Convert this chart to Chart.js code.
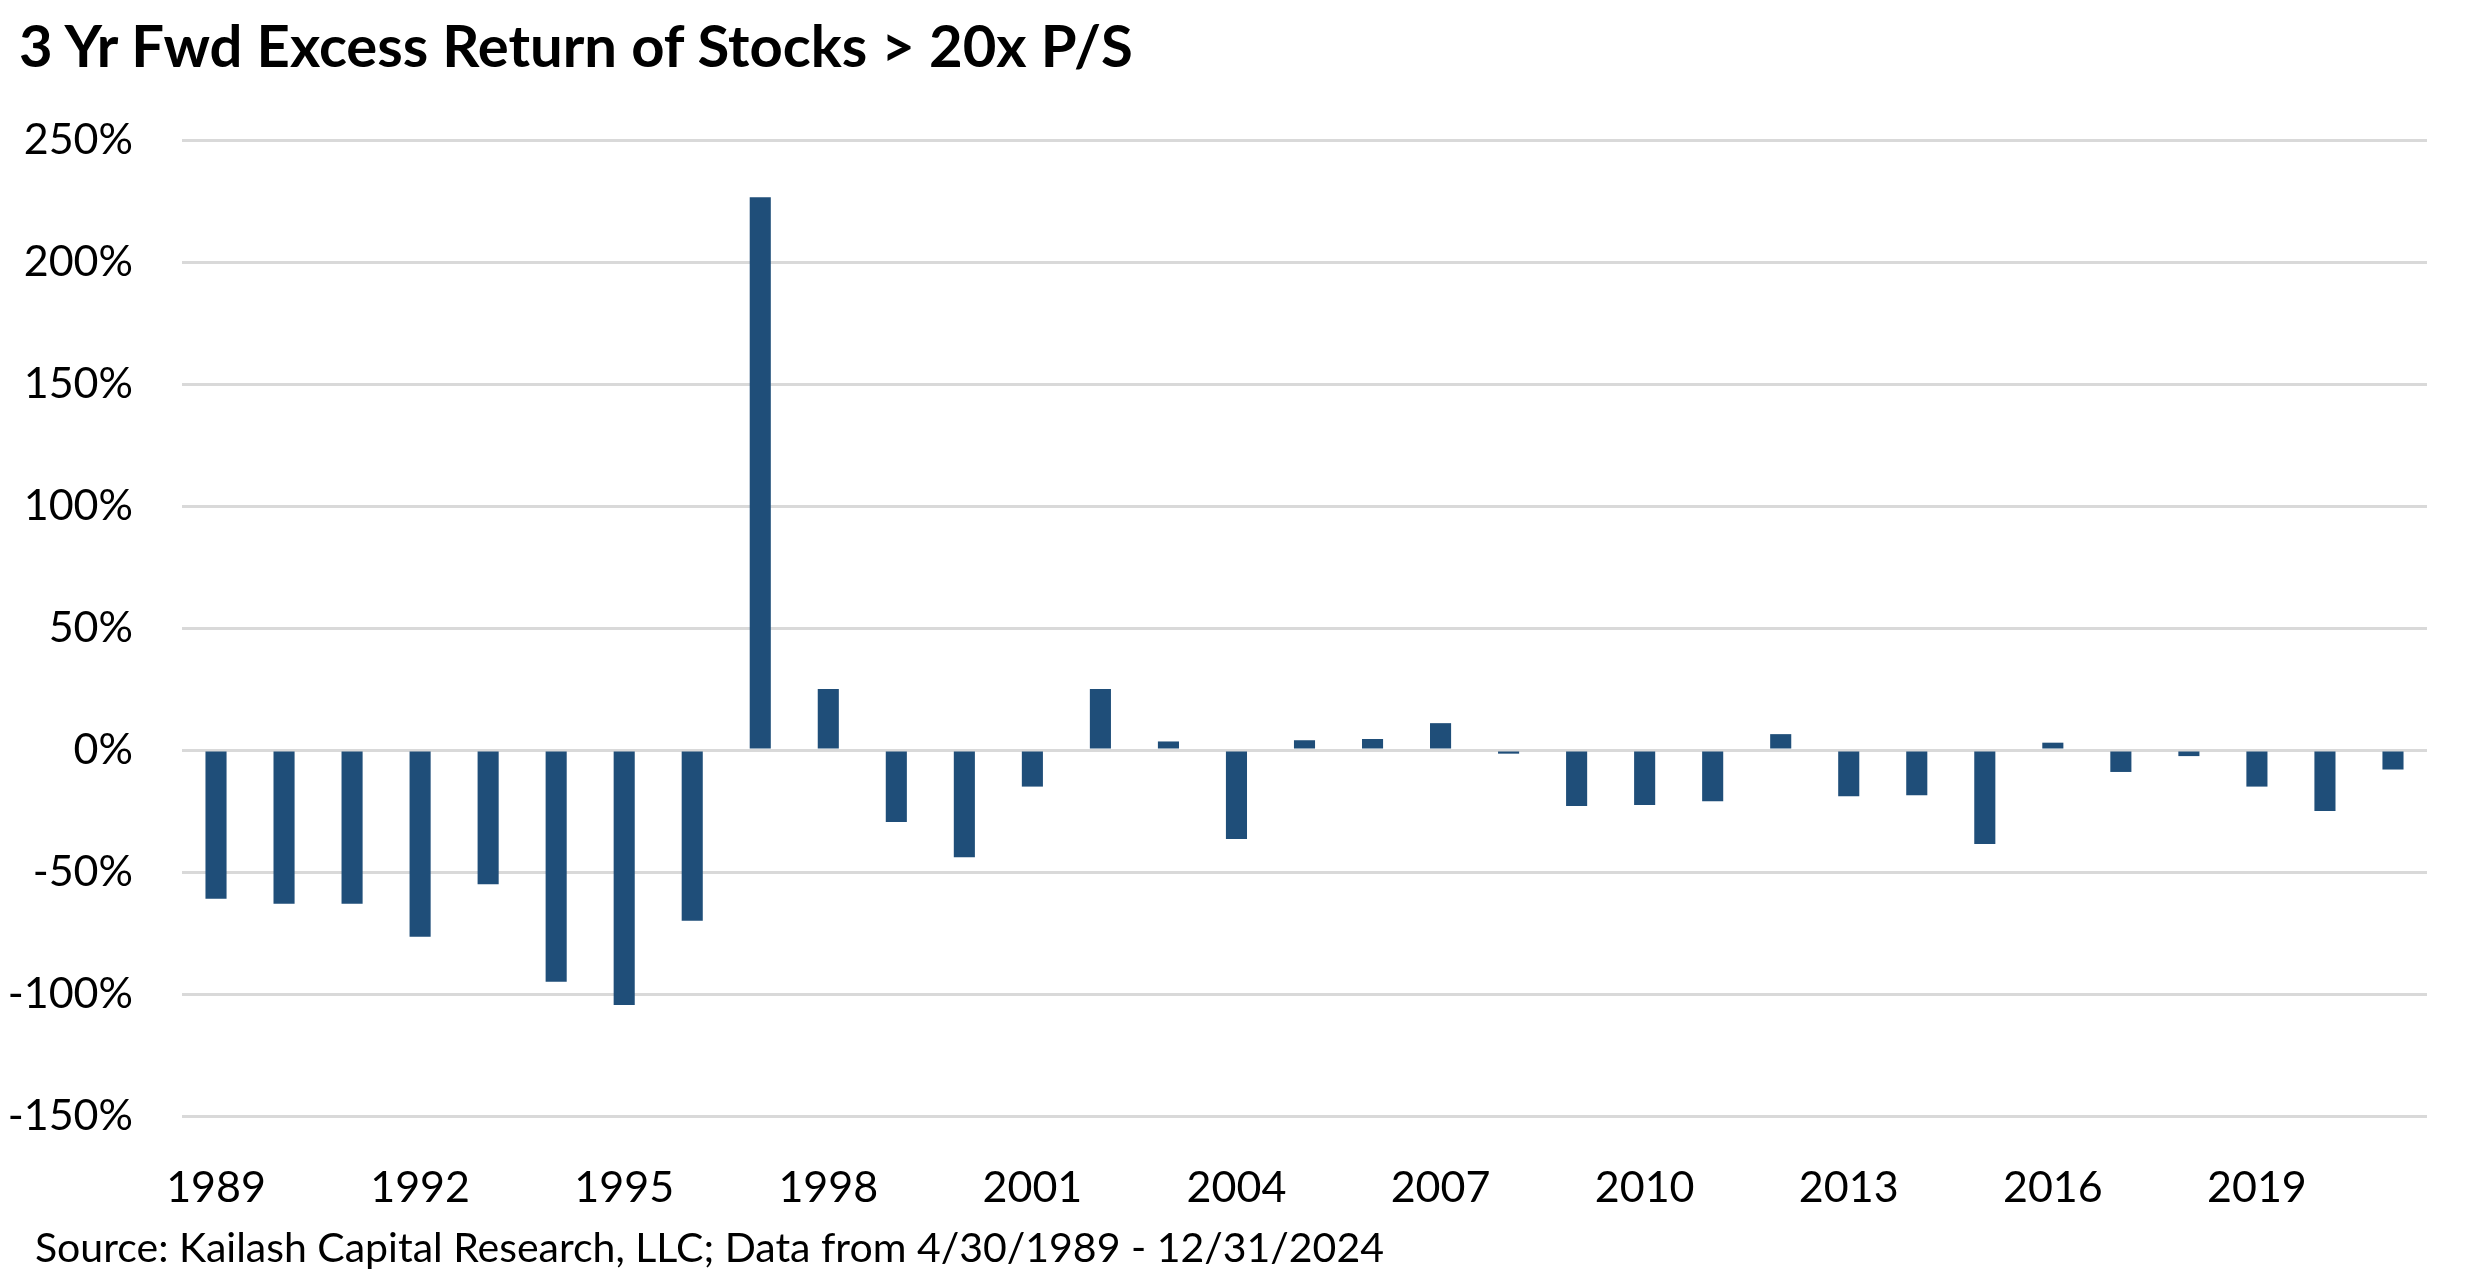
<!DOCTYPE html>
<html>
<head>
<meta charset="utf-8">
<script src="https://cdn.jsdelivr.net/npm/chart.js@4.4.1/dist/chart.umd.min.js"></script>
<style>
  html, body { margin: 0; padding: 0; background: #fff; }
  body { width: 2475px; height: 1287px; position: relative; overflow: hidden; font-family: Lato, sans-serif; }
  #title { position: absolute; left: 19px; top: 16px; font-size: 58px; font-weight: 700; line-height: 1; color: #000; white-space: nowrap; }
  #source { position: absolute; left: 35px; top: 1226px; font-size: 41px; line-height: 1; color: #000; white-space: nowrap; }
  #wrap { position: absolute; left: 0; top: 0; width: 2475px; height: 1287px; }
</style>
</head>
<body>
<div id="wrap"><canvas id="chart"></canvas></div>
<div id="title">3 Yr Fwd Excess Return of Stocks &gt; 20x P/S</div>
<div id="source">Source: Kailash Capital Research, LLC; Data from 4/30/1989 - 12/31/2024</div>
<script>
// Data (percent)
const years = [1989, 1990, 1991, 1992, 1993, 1994, 1995, 1996, 1997, 1998, 1999,
               2000, 2001, 2002, 2003, 2004, 2005, 2006, 2007, 2008, 2009, 2010,
               2011, 2012, 2013, 2014, 2015, 2016, 2017, 2018, 2019, 2020, 2021];
const excessReturn = [-61, -63, -63, -76.5, -55, -95, -104.5, -70, 226.5, 25, -29.5,
                      -44, -15, 25, 3.5, -36.5, 4, 4.5, 11, -1.5, -23, -22.5,
                      -21, 6.5, -19, -18.5, -38.5, 3, -9, -2.5, -15, -25, -8];
const tickEvery = 3;
const yTicks = [-150, -100, -50, 0, 50, 100, 150, 200, 250];

Chart.defaults.font.family = 'Lato, sans-serif';
Chart.defaults.color = '#000';

const ctx = document.getElementById('chart').getContext('2d');
const chart = new Chart(ctx, {
    type: 'bar',
    data: {
        labels: years.map(String),
        datasets: [{
            data: excessReturn,
            backgroundColor: '#1f4e79',
            borderWidth: 0,
            barPercentage: 0.31,
            categoryPercentage: 1.0
        }]
    },
    options: {
        responsive: true,
        maintainAspectRatio: false,
        animation: false,
        layout: { padding: { top: 140, right: 48, bottom: 0, left: 0 } },
        plugins: { legend: { display: false }, tooltip: { enabled: false } },
        scales: {
            x: {
                grid: { display: false },
                border: { display: false },
                ticks: {
                    autoSkip: false,
                    maxRotation: 0,
                    padding: 38,
                    font: { size: 43 },
                    color: '#000',
                    callback: function(val, i) {
                        return (i % tickEvery === 0) ? years[i] : '';
                    }
                },
                afterFit: function(scale) { scale.height = 171; }
            },
            y: {
                min: -150,
                max: 250,
                afterBuildTicks: function(scale) {
                    scale.ticks = yTicks.map(v => ({ value: v }));
                },
                grid: { color: '#d9d9d9', lineWidth: 3, drawTicks: false },
                border: { display: false },
                ticks: {
                    padding: 49,
                    font: { size: 43 },
                    color: '#000',
                    callback: v => v + '%'
                },
                afterFit: function(scale) { scale.width = 182; }
            }
        }
    }
});
</script>
</body>
</html>
